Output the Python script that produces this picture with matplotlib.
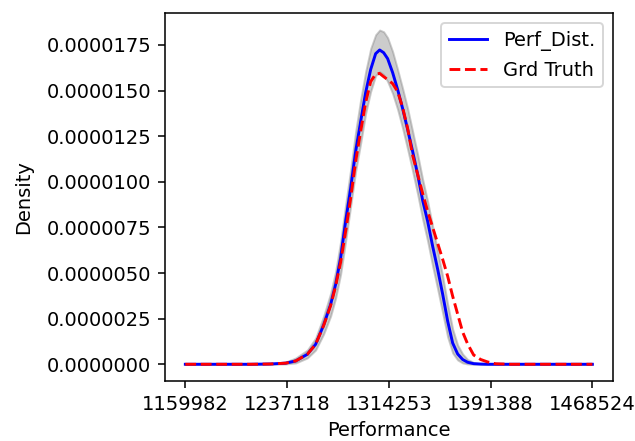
import numpy as np
import matplotlib
matplotlib.use("Agg")
import matplotlib.pyplot as plt

# performance grid (x) and densities, in units of 1e-6
perf = np.array([
    1159982, 1209485, 1224647, 1236018, 1243599, 1252469, 1258761, 1264826,
    1270132, 1273923, 1277713, 1281504, 1285294, 1289085, 1292875, 1296666,
    1300456, 1304247, 1307279, 1310311, 1313344, 1317134, 1320925, 1324715,
    1328506, 1332296, 1336087, 1339877, 1343667, 1347458, 1351248, 1355039,
    1358829, 1362620, 1366410, 1370200, 1373991, 1378539, 1383846, 1389152,
    1395217, 1406590, 1468524])

perf_dist = np.array([
    0, 0, 0.016, 0.060, 0.180, 0.547, 1.094, 2.149,
    3.281, 4.374, 5.828, 7.835, 9.639, 11.662, 13.302, 14.888,
    16.146, 17.021, 17.223, 17.075, 16.747, 15.981, 15.052, 14.013,
    12.865, 11.662, 10.405, 8.983, 7.835, 6.468, 5.211, 3.844,
    2.367, 1.165, 0.563, 0.262, 0.109, 0.033, 0.011, 0,
    0, 0, 0])

grd_truth = np.array([
    0, 0, 0.016, 0.060, 0.180, 0.547, 1.094, 2.121,
    3.215, 4.281, 5.593, 7.288, 9.092, 11.115, 12.756, 14.341,
    15.489, 15.899, 15.938, 15.763, 15.599, 15.380, 14.943, 14.068,
    12.920, 11.444, 10.405, 9.366, 8.382, 7.507, 6.632, 5.757,
    4.828, 3.734, 2.750, 1.766, 1.110, 0.508, 0.262, 0.126,
    0.027, 0, 0])

band_hi = np.array([
    0, 0, 0.044, 0.126, 0.344, 0.782, 1.438, 2.641,
    3.898, 5.101, 6.742, 8.765, 10.678, 12.756, 14.505, 16.036,
    17.294, 18.059, 18.316, 18.223, 17.895, 17.130, 16.146, 15.107,
    14.013, 12.756, 11.498, 10.131, 8.929, 7.562, 6.195, 4.828,
    3.297, 1.930, 1.055, 0.563, 0.262, 0.098, 0.033, 0.011,
    0, 0, 0])

band_lo = np.array([
    0, 0, 0, 0.016, 0.071, 0.344, 0.782, 1.657,
    2.641, 3.625, 4.937, 6.742, 8.656, 10.569, 12.100, 13.740,
    14.943, 15.818, 16.036, 15.872, 15.489, 14.833, 13.958, 12.920,
    11.771, 10.569, 9.311, 7.944, 6.742, 5.375, 4.117, 2.805,
    1.493, 0.618, 0.235, 0.071, 0.016, 0, 0, 0,
    0, 0, 0])

tick_vals = [1159982, 1237118, 1314253, 1391388, 1468524]
tick_labels = ["1159982", "1237118", "1314253", "1391388", "1468524"]

fig = plt.figure(figsize=(635 / 140, 441 / 140), dpi=140)
ax = fig.add_axes([0.2598, 0.1361, 0.7051, 0.8337])

ax.fill_between(perf, band_lo * 1e-6, band_hi * 1e-6, color="gray", alpha=0.4)
ax.plot(perf, perf_dist * 1e-6, color="blue", label="Perf_Dist.")
ax.plot(perf, grd_truth * 1e-6, color="red", linestyle="--", label="Grd Truth")

ax.set_xticks(tick_vals)
ax.set_xticklabels(tick_labels)
ax.ticklabel_format(axis="y", style="plain", useOffset=False)
ax.set_xlabel("Performance")
ax.set_ylabel("Density", labelpad=7)
ax.legend(loc="upper right")

fig.savefig("out.png", dpi=140)
plt.close(fig)
